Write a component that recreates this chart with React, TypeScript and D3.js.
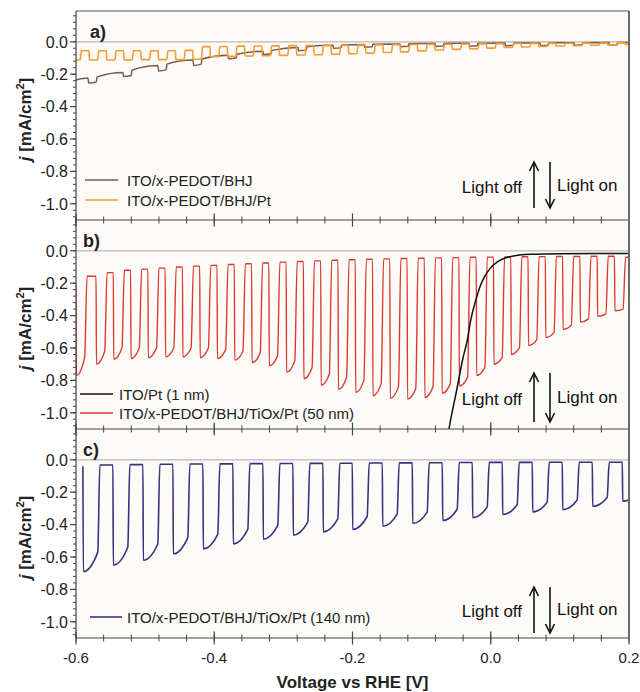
import React from 'react';
import * as d3 from 'd3';

// axis ticks
const xTicks = [-0.6, -0.4, -0.2, 0.0, 0.2];
const yTicks = [0.0, -0.2, -0.4, -0.6, -0.8, -1.0];

// ---- panel a: ITO/x-PEDOT/BHJ (small dips every other chop) ----
const brownOn = [-0.5826, -0.532, -0.4814, -0.4307, -0.3801, -0.3295, -0.2788, -0.2282, -0.1834, -0.1313, -0.0806, -0.0315, 0.0206, 0.0713, 0.1205, 0.1711];
const brownOff = [-0.5706, -0.52, -0.4694, -0.4187, -0.3681, -0.3175, -0.2668, -0.2162, -0.1714, -0.1193, -0.0686, -0.0195, 0.0326, 0.0833, 0.1325, 0.1831];
const brownDark = [-0.224, -0.19, -0.147, -0.113, -0.083, -0.058, -0.035, -0.022, -0.016, -0.013, -0.011, -0.009, -0.008, -0.007, -0.006, -0.005];
const brownDip = [-0.254, -0.215, -0.18, -0.146, -0.105, -0.078, -0.055, -0.04, -0.034, -0.031, -0.029, -0.027, -0.025, -0.024, -0.022, -0.02];
const brownDipEnd = [-0.248, -0.208, -0.172, -0.138, -0.098, -0.072, -0.05, -0.036, -0.031, -0.028, -0.026, -0.024, -0.022, -0.021, -0.019, -0.018];
const brownBack = [-0.218, -0.176, -0.138, -0.106, -0.077, -0.053, -0.031, -0.02, -0.015, -0.012, -0.01, -0.009, -0.008, -0.007, -0.006, -0.005];

// ---- panel a: ITO/x-PEDOT/BHJ/Pt ----
const orangeOn = [-0.6, -0.5812, -0.5562, -0.5312, -0.5062, -0.4812, -0.4562, -0.4312, -0.4062, -0.3812, -0.3562, -0.3312, -0.3062, -0.2812, -0.2562, -0.2312, -0.2062, -0.1812, -0.1562, -0.1312, -0.1062, -0.0812, -0.0562, -0.0312, -0.0062, 0.0188, 0.0438, 0.0688, 0.0938, 0.1188, 0.1438, 0.1688, 0.1938];
const orangeOff = [-0.594, -0.5687, -0.5437, -0.5187, -0.4937, -0.4687, -0.4437, -0.4187, -0.3937, -0.3687, -0.3437, -0.3187, -0.2937, -0.2687, -0.2437, -0.2187, -0.1937, -0.1687, -0.1437, -0.1187, -0.0937, -0.0687, -0.0437, -0.0187, 0.0063, 0.0313, 0.0563, 0.0813, 0.1063, 0.1313, 0.1563, 0.1813, 0.2063];
const orangeDark = [-0.112, -0.055, -0.055, -0.055, -0.055, -0.055, -0.055, -0.053, -0.03, -0.029, -0.027, -0.026, -0.025, -0.024, -0.023, -0.022, -0.021, -0.02, -0.019, -0.018, -0.017, -0.016, -0.015, -0.014, -0.013, -0.012, -0.011, -0.01, -0.01, -0.009, -0.008, -0.008, -0.007];
const orangeLight = [-0.112, -0.112, -0.112, -0.112, -0.11, -0.11, -0.11, -0.108, -0.092, -0.09, -0.088, -0.086, -0.084, -0.082, -0.08, -0.077, -0.074, -0.07, -0.066, -0.062, -0.056, -0.051, -0.047, -0.043, -0.039, -0.035, -0.032, -0.029, -0.026, -0.024, -0.021, -0.019, -0.016];

// ---- panel b: ITO/Pt (1 nm) ----
const ptV = [-0.064, -0.0604, -0.0488, -0.0401, -0.0343, -0.0286, -0.0213, -0.0155, -0.0083, -0.0011, 0.009, 0.0206, 0.0351, 0.0568, 0.1002, 0.2];
const ptJ = [-1.2, -1.1, -0.85, -0.66, -0.56, -0.42, -0.3, -0.22, -0.155, -0.11, -0.07, -0.045, -0.03, -0.022, -0.018, -0.017];

// ---- panel b: ITO/x-PEDOT/BHJ/TiOx/Pt (50 nm) ----
const redOn = [-0.6, -0.571, -0.546, -0.521, -0.496, -0.471, -0.446, -0.421, -0.396, -0.371, -0.346, -0.321, -0.296, -0.271, -0.246, -0.221, -0.196, -0.171, -0.146, -0.121, -0.096, -0.071, -0.046, -0.021, 0.004, 0.029, 0.054, 0.079, 0.104, 0.129, 0.154, 0.179];
const redOff = [-0.5875, -0.5585, -0.5335, -0.5085, -0.4835, -0.4585, -0.4335, -0.4085, -0.3835, -0.3585, -0.3335, -0.3085, -0.2835, -0.2585, -0.2335, -0.2085, -0.1835, -0.1585, -0.1335, -0.1085, -0.0835, -0.0585, -0.0335, -0.0085, 0.0165, 0.0415, 0.0665, 0.0915, 0.1165, 0.1415, 0.1665, 0.1915];
const redDark = [-0.21, -0.157, -0.135, -0.12, -0.113, -0.107, -0.1, -0.095, -0.09, -0.085, -0.08, -0.075, -0.07, -0.066, -0.062, -0.058, -0.055, -0.052, -0.05, -0.048, -0.046, -0.044, -0.042, -0.04, -0.039, -0.038, -0.037, -0.036, -0.035, -0.035, -0.034, -0.034];
const redPeak = [-0.77, -0.7, -0.67, -0.665, -0.66, -0.655, -0.655, -0.66, -0.665, -0.675, -0.69, -0.71, -0.75, -0.79, -0.83, -0.855, -0.875, -0.895, -0.91, -0.915, -0.905, -0.88, -0.835, -0.77, -0.7, -0.64, -0.585, -0.535, -0.485, -0.44, -0.405, -0.37];
const redEnd = [-0.66, -0.62, -0.6, -0.6, -0.6, -0.6, -0.6, -0.6, -0.61, -0.62, -0.63, -0.65, -0.68, -0.72, -0.76, -0.78, -0.8, -0.82, -0.84, -0.85, -0.84, -0.82, -0.78, -0.72, -0.66, -0.6, -0.55, -0.505, -0.46, -0.42, -0.39, -0.36];
const redLastDark = -0.04;

// ---- panel c: ITO/x-PEDOT/BHJ/TiOx/Pt (140 nm) ----
const navyOn = [-0.59, -0.5466, -0.5032, -0.4598, -0.4164, -0.373, -0.3296, -0.2862, -0.2428, -0.2003, -0.1569, -0.1135, -0.0701, -0.0267, 0.0167, 0.0601, 0.1035, 0.1469, 0.1903];
const navyOff = [-0.5685, -0.5251, -0.4817, -0.4383, -0.3949, -0.3515, -0.3081, -0.2647, -0.2213, -0.1788, -0.1354, -0.092, -0.0486, -0.0052, 0.0382, 0.0816, 0.125, 0.1684, 0.2118];
const navyDark = [-0.04, -0.032, -0.03, -0.028, -0.026, -0.025, -0.024, -0.023, -0.022, -0.021, -0.02, -0.019, -0.018, -0.017, -0.016, -0.016, -0.015, -0.015, -0.015];
const navyPeak = [-0.69, -0.65, -0.62, -0.58, -0.55, -0.52, -0.49, -0.465, -0.445, -0.43, -0.41, -0.393, -0.375, -0.357, -0.338, -0.322, -0.308, -0.288, -0.255];
const navyEnd = [-0.57, -0.54, -0.52, -0.48, -0.46, -0.43, -0.405, -0.385, -0.365, -0.35, -0.335, -0.323, -0.305, -0.292, -0.278, -0.262, -0.248, -0.233, -0.215];
const navyLastDark = -0.015;

const BROWN = '#7d5a4a';
const ORANGE = '#f39c31';
const RED = '#dc3a2f';
const BLACK = '#111111';
const NAVY = '#3b2f80';
const FONT = 'Liberation Sans, Arial, Helvetica, sans-serif';

const W = 640;
const H = 692;
const LEFT = 76;
const RIGHT = 629;
const PANEL_H = 209;
const panelTops = [11, 220, 429];

const x = d3.scaleLinear().domain([-0.6, 0.2]).range([LEFT, RIGHT]);

type Pt = [number, number];

// build a chopped-light trace from the read cycle values
function pulseTrace(
  on: number[], off: number[], dark: number[], peak: number[], end: number[], back: number[],
  start: Pt | null, stop: Pt, trOn: number, trOff: number
): Pt[] {
  const pts: Pt[] = [];
  if (start) pts.push(start);
  on.forEach((v, i) => {
    pts.push([v, dark[i]]);
    pts.push([v + trOn, peak[i]]);
    pts.push([off[i], end[i]]);
    pts.push([off[i] + trOff, back[i]]);
  });
  pts.push(stop);
  const out: Pt[] = [];
  pts.forEach(p => {
    if (!out.length || p[0] > out[out.length - 1][0]) out.push(p);
  });
  return out;
}

const brownPts = pulseTrace(brownOn, brownOff, brownDark, brownDip, brownDipEnd, brownBack,
  [-0.6, -0.236], [0.2, -0.004], 0.0008, 0.0008);
const orangePts = pulseTrace(orangeOn, orangeOff, orangeDark, orangeLight, orangeLight,
  orangeDark.slice(1).concat([-0.007]), null, [0.21, -0.007], 0.0006, 0.0018);
const redPts = pulseTrace(redOn, redOff, redDark, redPeak, redEnd,
  redDark.slice(1).concat([redLastDark]), null, [0.21, redLastDark], 0.0006, 0.0035);
const navyPts = pulseTrace(navyOn, navyOff, navyDark, navyPeak, navyEnd,
  navyDark.slice(1).concat([navyLastDark]), null, [0.23, navyLastDark], 0.0006, 0.003);
const ptPts: Pt[] = ptV.map((v, i) => [v, ptJ[i]]);

type Series = { pts: Pt[]; color: string; label: string; width: number };

const panels: {
  tag: string; tagX: number; series: Series[]; legendOrder: number[];
  legX0: number; legX1: number; legTextX: number; legY: number[];
  noteY: number; arrowTop: number; arrowBot: number;
}[] = [
  {
    tag: 'a)', tagX: 90,
    series: [
      { pts: brownPts, color: BROWN, label: 'ITO/x-PEDOT/BHJ', width: 1.5 },
      { pts: orangePts, color: ORANGE, label: 'ITO/x-PEDOT/BHJ/Pt', width: 1.6 },
    ],
    legendOrder: [0, 1],
    legX0: 85, legX1: 118, legTextX: 127, legY: [169, 189],
    noteY: 182, arrowTop: 151, arrowBot: 197,
  },
  {
    tag: 'b)', tagX: 83,
    series: [
      { pts: redPts, color: RED, label: 'ITO/x-PEDOT/BHJ/TiOx/Pt (50 nm)', width: 1.4 },
      { pts: ptPts, color: BLACK, label: 'ITO/Pt (1 nm)', width: 1.5 },
    ],
    legendOrder: [1, 0],
    legX0: 80, legX1: 113, legTextX: 119, legY: [174, 193],
    noteY: 185, arrowTop: 153, arrowBot: 202,
  },
  {
    tag: 'c)', tagX: 83,
    series: [
      { pts: navyPts, color: NAVY, label: 'ITO/x-PEDOT/BHJ/TiOx/Pt (140 nm)', width: 1.6 },
    ],
    legendOrder: [0],
    legX0: 90, legX1: 122, legTextX: 127, legY: [188],
    noteY: 188, arrowTop: 158, arrowBot: 204,
  },
];

const xMinor = d3.range(0, 21).map(i => +(-0.6 + i * 0.04).toFixed(2));
const yMinor = d3.range(0, 32).map(i => +(-1.08 + i * 0.04).toFixed(2));
const fmt = (v: number) => (Math.abs(v) < 1e-9 ? '0.0' : v.toFixed(1));

function Arrow({ xPos, y0, y1, up }: { xPos: number; y0: number; y1: number; up: boolean }) {
  const tip = up ? y0 : y1;
  const dir = up ? 1 : -1;
  return (
    <g stroke="#111" strokeWidth={1.6} fill="none">
      <line x1={xPos} x2={xPos} y1={y0} y2={y1} />
      <polyline points={`${xPos - 4.5},${tip + dir * 9} ${xPos},${tip} ${xPos + 4.5},${tip + dir * 9}`} />
    </g>
  );
}

function Panel({ idx }: { idx: number }) {
  const p = panels[idx];
  const top = panelTops[idx];
  const bottom = top + PANEL_H;
  const y = d3.scaleLinear().domain([-1.1, 0.19]).range([bottom, top]);
  const line = d3.line<Pt>().x(d => x(d[0])).y(d => y(d[1])).curve(d3.curveMonotoneX);
  const clipId = `clip-${idx}`;
  return (
    <g>
      <defs>
        <clipPath id={clipId}>
          <rect x={LEFT} y={top} width={RIGHT - LEFT} height={PANEL_H} />
        </clipPath>
      </defs>
      {/* zero line */}
      <line x1={LEFT} x2={RIGHT} y1={y(0)} y2={y(0)} stroke="#b9b9b9" strokeWidth={1.2} />
      <g clipPath={`url(#${clipId})`}>
        {p.series.map((s, i) => (
          <path key={i} d={line(s.pts) || ''} fill="none" stroke={s.color} strokeWidth={s.width} strokeLinejoin="round" />
        ))}
      </g>
      {/* left axis */}
      <line x1={LEFT} x2={LEFT} y1={top} y2={bottom} stroke="#444" strokeWidth={1.2} />
      {yMinor.map(v => (
        <line key={`ym${v}`} x1={LEFT - 3} x2={LEFT} y1={y(v)} y2={y(v)} stroke="#444" strokeWidth={1} />
      ))}
      {yTicks.map(v => (
        <g key={`yt${v}`}>
          <line x1={LEFT - 6} x2={LEFT} y1={y(v)} y2={y(v)} stroke="#444" strokeWidth={1.2} />
          <text x={68} y={y(v)} dy="0.36em" textAnchor="end" fontSize={16} fill="#222" fontFamily={FONT}>{fmt(v)}</text>
        </g>
      ))}
      {/* bottom axis */}
      <line x1={LEFT} x2={RIGHT} y1={bottom} y2={bottom} stroke="#444" strokeWidth={1.2} />
      {xMinor.map(v => (
        <line key={`xm${v}`} x1={x(v)} x2={x(v)} y1={bottom - 3.5} y2={bottom + 3.5} stroke="#444" strokeWidth={1} />
      ))}
      {xTicks.map(v => (
        <line key={`xt${v}`} x1={x(v)} x2={x(v)} y1={bottom - 6.5} y2={bottom + 6.5} stroke="#444" strokeWidth={1.2} />
      ))}
      {/* y title */}
      <text transform={`translate(31,${top + PANEL_H / 2 + 4}) rotate(-90)`} textAnchor="middle"
        fontSize={17} fontWeight="bold" fill="#222" fontFamily={FONT}>
        <tspan fontStyle="italic">j</tspan>
        <tspan> [mA/cm</tspan>
        <tspan fontSize={11} dy={-7}>2</tspan>
        <tspan dy={7}>]</tspan>
      </text>
      {/* panel tag */}
      <text x={p.tagX} y={top + 27} fontSize={18} fontWeight="bold" fill="#222" fontFamily={FONT}>{p.tag}</text>
      {/* legend */}
      {p.legendOrder.map((si, r) => {
        const s = p.series[si];
        const ly = top + p.legY[r];
        return (
          <g key={`lg${r}`}>
            <line x1={p.legX0} x2={p.legX1} y1={ly} y2={ly} stroke={s.color} strokeWidth={1.6} />
            <text x={p.legTextX} y={ly + 6} fontSize={15} fill="#222" fontFamily={FONT}>{s.label}</text>
          </g>
        );
      })}
      {/* light on / off annotation */}
      <text x={522} y={top + p.noteY} textAnchor="end" fontSize={17} fill="#111" fontFamily={FONT}>Light off</text>
      <text x={557} y={top + p.noteY - 2} fontSize={17} fill="#111" fontFamily={FONT}>Light on</text>
      <Arrow xPos={534} y0={top + p.arrowTop} y1={top + p.arrowBot} up={true} />
      <Arrow xPos={550} y0={top + p.arrowTop} y1={top + p.arrowBot} up={false} />
    </g>
  );
}

export default function App() {
  const bottom = panelTops[2] + PANEL_H;
  return (
    <svg width={W} height={H} viewBox={`0 0 ${W} ${H}`}
      style={{ position: 'absolute', left: 0, top: 0, display: 'block', background: '#ffffff' }}>
      <rect x={LEFT} y={panelTops[0]} width={RIGHT - LEFT} height={bottom - panelTops[0]} fill="#fdfbf8" />
      {panels.map((_, i) => <Panel key={i} idx={i} />)}
      {/* frame top and right */}
      <line x1={LEFT} x2={RIGHT} y1={panelTops[0]} y2={panelTops[0]} stroke="#555" strokeWidth={1.2} />
      <line x1={RIGHT} x2={RIGHT} y1={panelTops[0]} y2={bottom} stroke="#6a6a6a" strokeWidth={2} />
      {/* x tick labels */}
      {xTicks.map(v => (
        <text key={`xl${v}`} x={x(v)} y={663} textAnchor="middle" fontSize={15} fill="#222" fontFamily={FONT}>{fmt(v)}</text>
      ))}
      <text x={(LEFT + RIGHT) / 2} y={688} textAnchor="middle" fontSize={17} fontWeight="bold" fill="#222" fontFamily={FONT}>
        Voltage vs RHE [V]
      </text>
    </svg>
  );
}
